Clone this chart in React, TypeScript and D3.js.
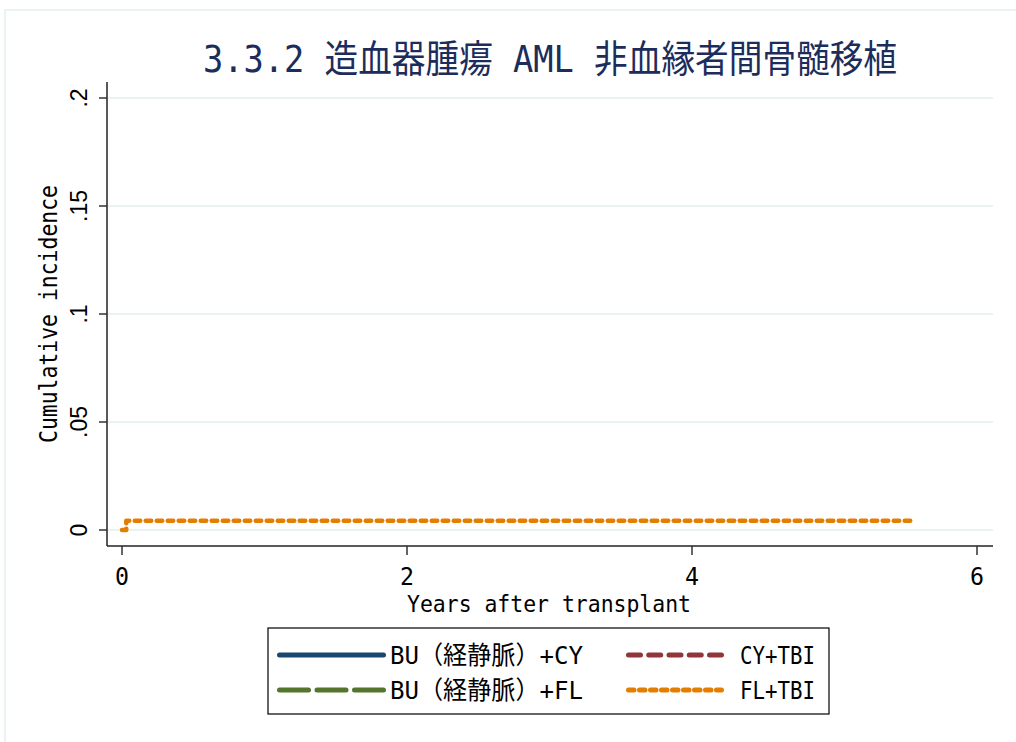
import * as React from 'react'
import * as d3 from 'd3'

// chart content
const title = '3.3.2 造血器腫瘍 AML 非血縁者間骨髄移植'
const xLabel = 'Years after transplant'
const yLabel = 'Cumulative incidence'
const xTicks = [0, 2, 4, 6]
const yTicks = [0, 0.05, 0.1, 0.15, 0.2]
const yTickLabels = ['0', '.05', '.1', '.15', '.2']

const seriesNames = ['BU（経静脈）+CY', 'CY+TBI', 'BU（経静脈）+FL', 'FL+TBI']
const seriesColors = ['#1a476f', '#90353b', '#55752f', '#e37e00']
const seriesDash = ['none', '12 8.25', '29 8.5', '5.5 5.5']

// only FL+TBI shows a visible curve
const flTbiTime = [0, 0.03, 0.03, 5.56]
const flTbiValue = [0, 0, 0.0043, 0.0043]

const W = 1016
const H = 742
const left = 107
const right = 993
const top = 82
const bottom = 546

const mono = "'DejaVu Sans Mono', 'Noto Sans CJK JP', monospace"

const App = () => {
  const x = d3.scaleLinear().domain([0, 6]).range([122, 977])
  const y = d3.scaleLinear().domain([0, 0.2]).range([530, 98])

  const pts: [number, number][] = flTbiTime.map((t, i) => [t, flTbiValue[i]])
  const line = d3.line<[number, number]>()
    .x(d => x(d[0]))
    .y(d => y(d[1]))

  const legendRows = [
    { name: seriesNames[0], i: 0, lx: 279.5, ly: 655, tx: 390, tw: 193, lw: 104 },
    { name: seriesNames[1], i: 1, lx: 628.5, ly: 655, tx: 740, tw: 75, lw: 93 },
    { name: seriesNames[2], i: 2, lx: 279.5, ly: 690, tx: 390, tw: 193, lw: 104 },
    { name: seriesNames[3], i: 3, lx: 628.5, ly: 690, tx: 740, tw: 75, lw: 93 },
  ]

  return (
    <svg width={W} height={H} style={{ position: 'absolute', left: 0, top: 0 }}>
      <rect x={0} y={0} width={W} height={H} fill="#fff" />
      <rect x={5} y={10} width={W + 10} height={H + 10} fill="none" stroke="#eaf2f3" strokeWidth={2} />

      <text x={550} y={72} fill="#1c2d5b" fontFamily={mono} fontSize={38}
        textAnchor="middle" textLength={694} lengthAdjust="spacingAndGlyphs">{title}</text>

      {/* gridlines */}
      {yTicks.map(t => (
        <line key={t} x1={left} x2={right} y1={y(t)} y2={y(t)} stroke="#eaf2f3" strokeWidth={2} />
      ))}

      {/* axes */}
      <line x1={left} x2={left} y1={top} y2={bottom} stroke="#222" strokeWidth={1.5} />
      <line x1={left} x2={right} y1={bottom} y2={bottom} stroke="#222" strokeWidth={1.5} />

      {yTicks.map((t, i) => (
        <g key={t}>
          <line x1={left - 8} x2={left} y1={y(t)} y2={y(t)} stroke="#333" strokeWidth={1.5} />
          <text transform={`translate(87,${y(t)}) rotate(-90)`} textAnchor="middle"
            fontFamily="'Liberation Sans', Arial, sans-serif" fontSize={23} fill="#000">{yTickLabels[i]}</text>
        </g>
      ))}

      {xTicks.map(t => (
        <g key={t}>
          <line x1={x(t)} x2={x(t)} y1={bottom} y2={bottom + 9} stroke="#333" strokeWidth={1.5} />
          <text x={x(t)} y={585} textAnchor="middle" fontFamily={mono} fontSize={24} fill="#000"
            textLength={14} lengthAdjust="spacingAndGlyphs">{t}</text>
        </g>
      ))}

      <text x={549} y={612} textAnchor="middle" fontFamily={mono} fontSize={23} fill="#000"
        textLength={284} lengthAdjust="spacingAndGlyphs">{xLabel}</text>
      <text transform="translate(57,314) rotate(-90)" textAnchor="middle" fontFamily={mono} fontSize={24}
        fill="#000" textLength={258} lengthAdjust="spacingAndGlyphs">{yLabel}</text>

      {/* curve */}
      <path d={line(pts) ?? ''} fill="none" stroke={seriesColors[3]} strokeWidth={4.5}
        strokeDasharray={seriesDash[3]} strokeLinecap="round" strokeLinejoin="round" />

      {/* legend */}
      <rect x={268} y={628} width={561} height={86} fill="#fff" stroke="#000" strokeWidth={1.2} />
      {legendRows.map(r => (
        <g key={r.name}>
          <line x1={r.lx} x2={r.lx + r.lw} y1={r.ly} y2={r.ly} stroke={seriesColors[r.i]} strokeWidth={5}
            strokeDasharray={seriesDash[r.i]} strokeLinecap="round" />
          <text x={r.tx} y={r.ly + 9} fontFamily={mono} fontSize={25} fill="#000"
            textLength={r.tw} lengthAdjust="spacingAndGlyphs">{r.name}</text>
        </g>
      ))}
    </svg>
  )
}

export default App
